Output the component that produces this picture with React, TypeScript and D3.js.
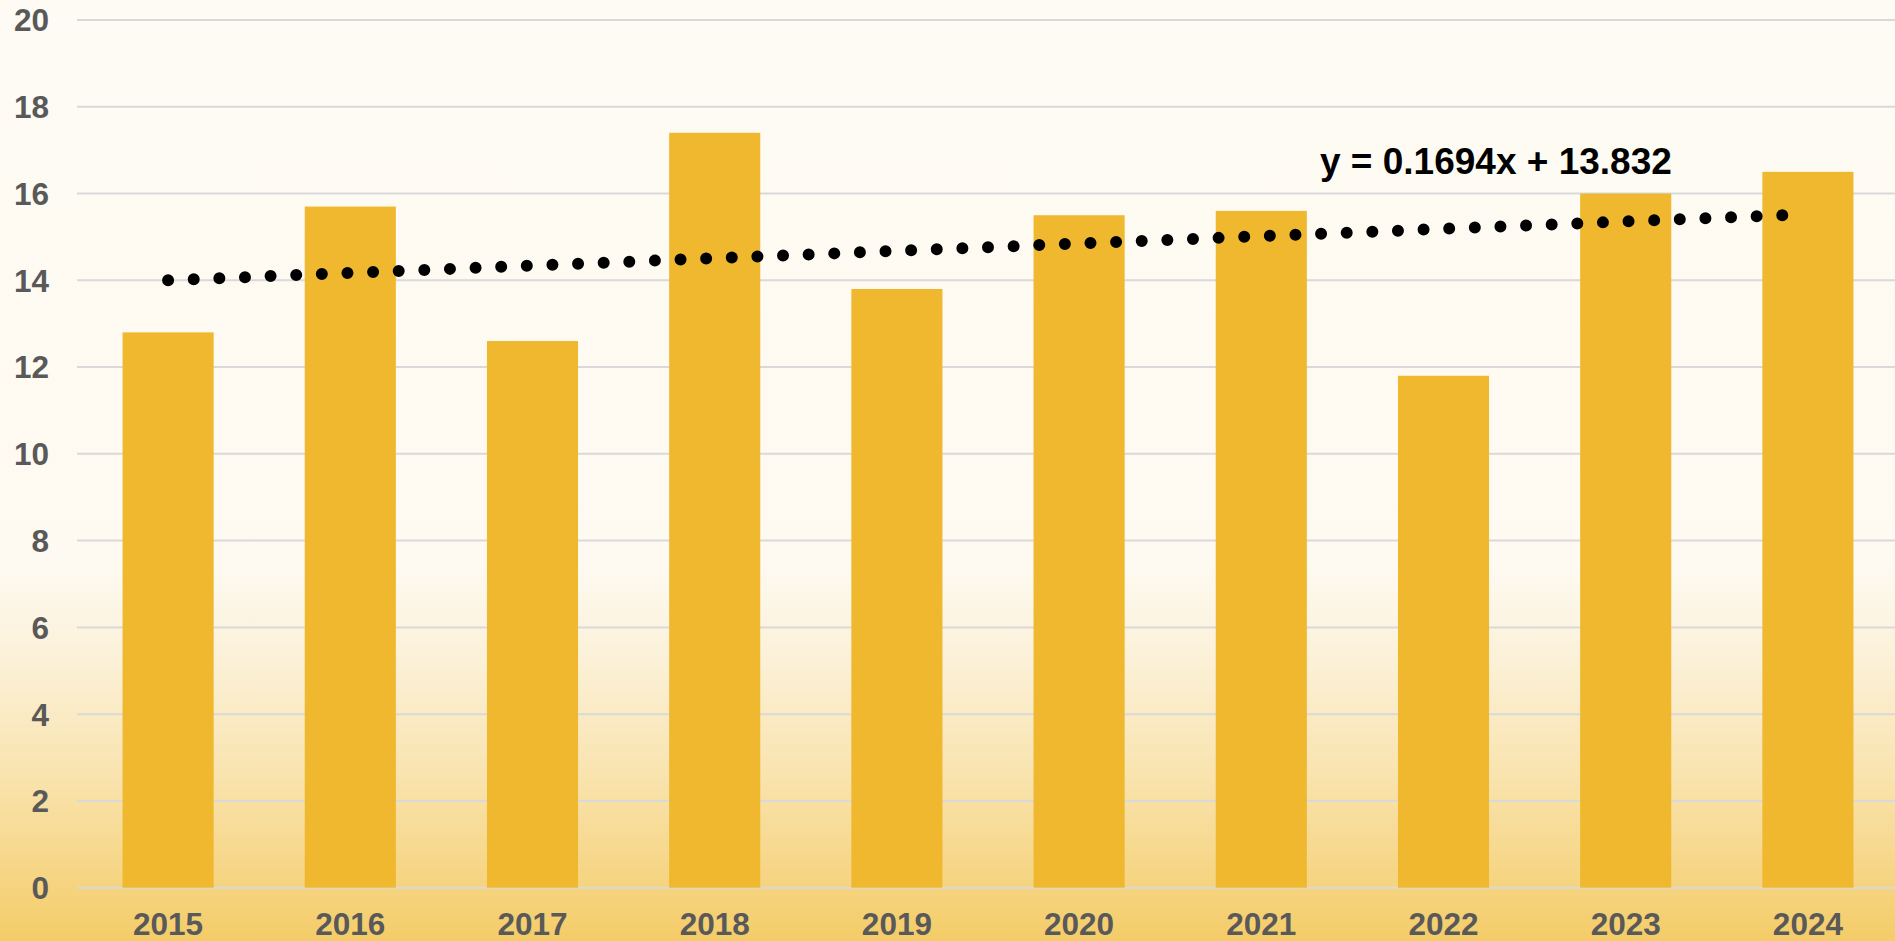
import React from "react";
import * as d3 from "d3";

const categories = ["2015", "2016", "2017", "2018", "2019", "2020", "2021", "2022", "2023", "2024"];
const values = [12.8, 15.7, 12.6, 17.4, 13.8, 15.5, 15.6, 11.8, 16.0, 16.5];
const yTicks = [0, 2, 4, 6, 8, 10, 12, 14, 16, 18, 20];
const trendSlope = 0.1694;
const trendIntercept = 13.832;
const equationLabel = "y = 0.1694x + 13.832";

const W = 1895;
const H = 941;

export default function App() {
  const x = d3.scaleBand<string>().domain(categories).range([77, 1899]).paddingInner(0.5).paddingOuter(0.25);
  const y = d3.scaleLinear().domain([0, 20]).range([887.7, 20]);

  const font = "'Liberation Sans', Arial, Helvetica, sans-serif";
  const cx = (c: string) => (x(c) ?? 0) + x.bandwidth() / 2;

  const x1 = cx(categories[0]);
  const x2 = cx(categories[categories.length - 1]);
  const y1 = y(trendSlope * 1 + trendIntercept);
  const y2 = y(trendSlope * categories.length + trendIntercept);
  const len = Math.hypot(x2 - x1, y2 - y1);
  const gap = len / 64;
  const trendPath = d3.line()([[x1, y1], [x2, y2]]) ?? "";

  return (
    <svg width={W} height={H} style={{ position: "absolute", left: 0, top: 0, display: "block" }}>
      <defs>
        <linearGradient id="bg" x1="0" y1="0" x2="0" y2="1">
          <stop offset="0" stopColor="#FEFBF4" />
          <stop offset="0.6" stopColor="#FEFAF1" />
          <stop offset="0.68" stopColor="#FCF3DE" />
          <stop offset="0.82" stopColor="#F9E4B0" />
          <stop offset="1" stopColor="#F4CC68" />
        </linearGradient>
      </defs>
      <rect x={0} y={0} width={W} height={H} fill="url(#bg)" />
      {yTicks.map((t) => (
        <g key={t}>
          <line x1={77} x2={W} y1={y(t)} y2={y(t)} stroke="#D9D9D9" strokeWidth={2} />
          <text x={49} y={y(t)} dy="0.36em" textAnchor="end" fontFamily={font} fontWeight="bold" fontSize={31.5} fill="#595959">
            {t}
          </text>
        </g>
      ))}
      {categories.map((c, i) => (
        <rect key={c} x={x(c)} y={y(values[i])} width={x.bandwidth()} height={y(0) - y(values[i])} fill="#EFB82E" />
      ))}
      <path d={trendPath} stroke="#000" strokeWidth={12} strokeLinecap="round" strokeDasharray={`0 ${gap}`} fill="none" />
      {categories.map((c) => (
        <text key={c} x={cx(c)} y={935} textAnchor="middle" fontFamily={font} fontWeight="bold" fontSize={31.5} fill="#595959">
          {c}
        </text>
      ))}
      <text x={1320} y={174} fontFamily={font} fontWeight="bold" fontSize={37} fill="#000">
        {equationLabel}
      </text>
    </svg>
  );
}
